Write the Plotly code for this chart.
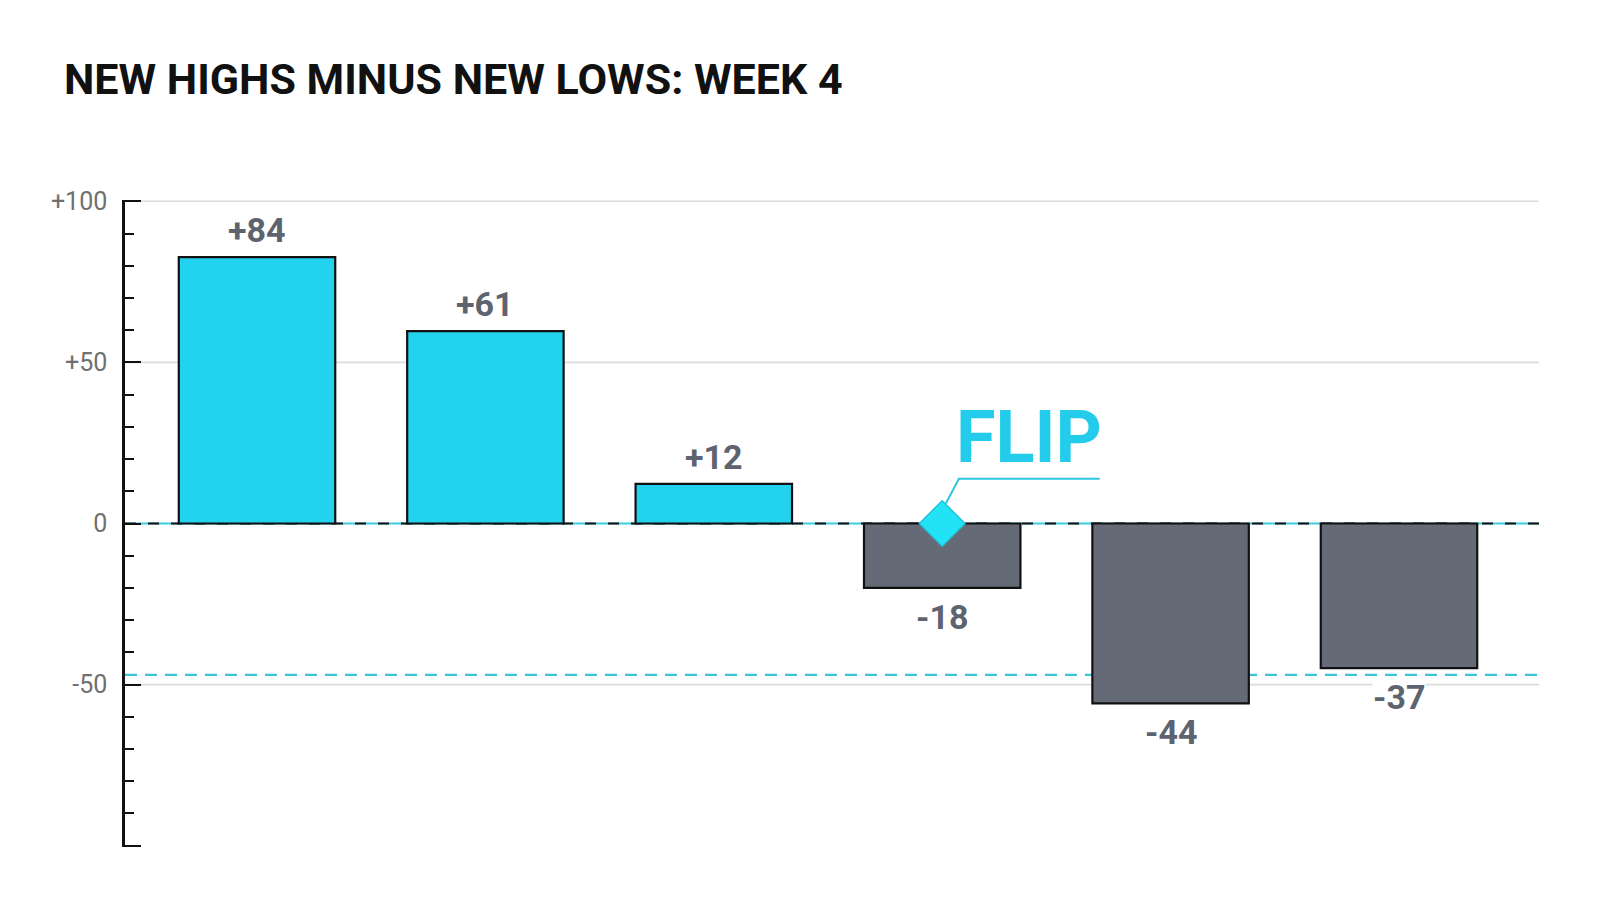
import plotly.graph_objects as go

# values (bar heights) and the labels printed on them
weeks = ["W1", "W2", "W3", "W4", "W5", "W6"]
net_values = [82.7, 59.7, 12.3, -20, -55.8, -44.9]
net_labels = ["+84", "+61", "+12", "-18", "-44", "-37"]
threshold = -47
grid_values = [100, 50, -50]
tick_vals = [-100, -50, 0, 50, 100]
tick_text = ["", "-50", "0", "+50", "+100"]
flip_week = "W4"

CYAN = "#22D2EE"
GRAY_BAR = "#646B76"
LABEL_GRAY = "#5E6370"

bar_colors = [CYAN if v >= 0 else GRAY_BAR for v in net_values]

fig = go.Figure()

fig.add_trace(go.Bar(
    x=weeks, y=net_values, width=0.685,
    marker=dict(color=bar_colors, line=dict(color="#111111", width=2.2)),
    hoverinfo="skip",
))

# flip marker on the zero line
fig.add_trace(go.Scatter(
    x=[flip_week], y=[0], mode="markers",
    marker=dict(symbol="diamond", size=35, color="#22E3F5",
                line=dict(color="#1FC3DA", width=1.5)),
    hoverinfo="skip",
))

# gridlines
for g in grid_values:
    fig.add_shape(type="line", xref="paper", x0=0, x1=1, yref="y", y0=g, y1=g,
                  line=dict(color="#DCDCDC", width=1.6), layer="below")

# zero line: cyan under black dashes
fig.add_shape(type="line", xref="paper", x0=0, x1=1, yref="y", y0=0, y1=0,
              line=dict(color="#3CCBE0", width=2.2), layer="below")
fig.add_shape(type="line", xref="paper", x0=0, x1=1, yref="y", y0=0, y1=0,
              line=dict(color="#111111", width=2, dash="11px,12px"), layer="below")

# threshold dashed line
fig.add_shape(type="line", xref="paper", x0=0, x1=1, yref="y", y0=threshold, y1=threshold,
              line=dict(color="#3CC4D6", width=2.2, dash="12px,8px"), layer="below")

# value labels
for w, v, t in zip(weeks, net_values, net_labels):
    fig.add_annotation(
        x=w, y=v, text=t, showarrow=False,
        yanchor="bottom" if v >= 0 else "top",
        yshift=6 if v >= 0 else -8,
        font=dict(family="Roboto", size=34, color=LABEL_GRAY, weight="bold"),
        bgcolor="white", borderpad=0,
    )

# FLIP callout
fig.add_shape(type="path", xref="x", yref="y",
              path="M 3.016 6.2 L 3.073 13.9 L 3.69 13.9",
              line=dict(color="#2EC6DE", width=2))
fig.add_annotation(x=3.379, y=26.6, text="FLIP", showarrow=False,
                   xanchor="center", yanchor="middle",
                   font=dict(family="Roboto", size=72, color="#22CCEA", weight="bold"))

fig.update_layout(
    width=1600, height=914,
    paper_bgcolor="white", plot_bgcolor="white",
    margin=dict(l=117, r=69, t=192, b=75),
    showlegend=False,
    title=dict(text="NEW HIGHS MINUS NEW LOWS: WEEK 4",
               xref="container", x=56 / 1600, xanchor="left",
               yref="container", y=1 - 71 / 914, yanchor="middle",
               font=dict(family="Roboto", size=43, color="#111111", weight="bold")),
    bargap=0.3,
)

fig.update_xaxes(visible=False, range=[-0.578, 5.613])
fig.update_yaxes(
    range=[-100.4, 100.4], tickmode="array", tickvals=tick_vals, ticktext=tick_text,
    showgrid=False, zeroline=False,
    showline=True, linecolor="#111111", linewidth=2.5,
    ticks="inside", ticklen=16, tickwidth=2.2, tickcolor="#111111",
    ticklabelstandoff=10,
    tickfont=dict(family="Roboto", size=25, color="#707070"),
    minor=dict(dtick=10, tick0=0, ticks="inside", ticklen=9, tickwidth=2, tickcolor="#111111"),
)

fig.write_html("out.html")
